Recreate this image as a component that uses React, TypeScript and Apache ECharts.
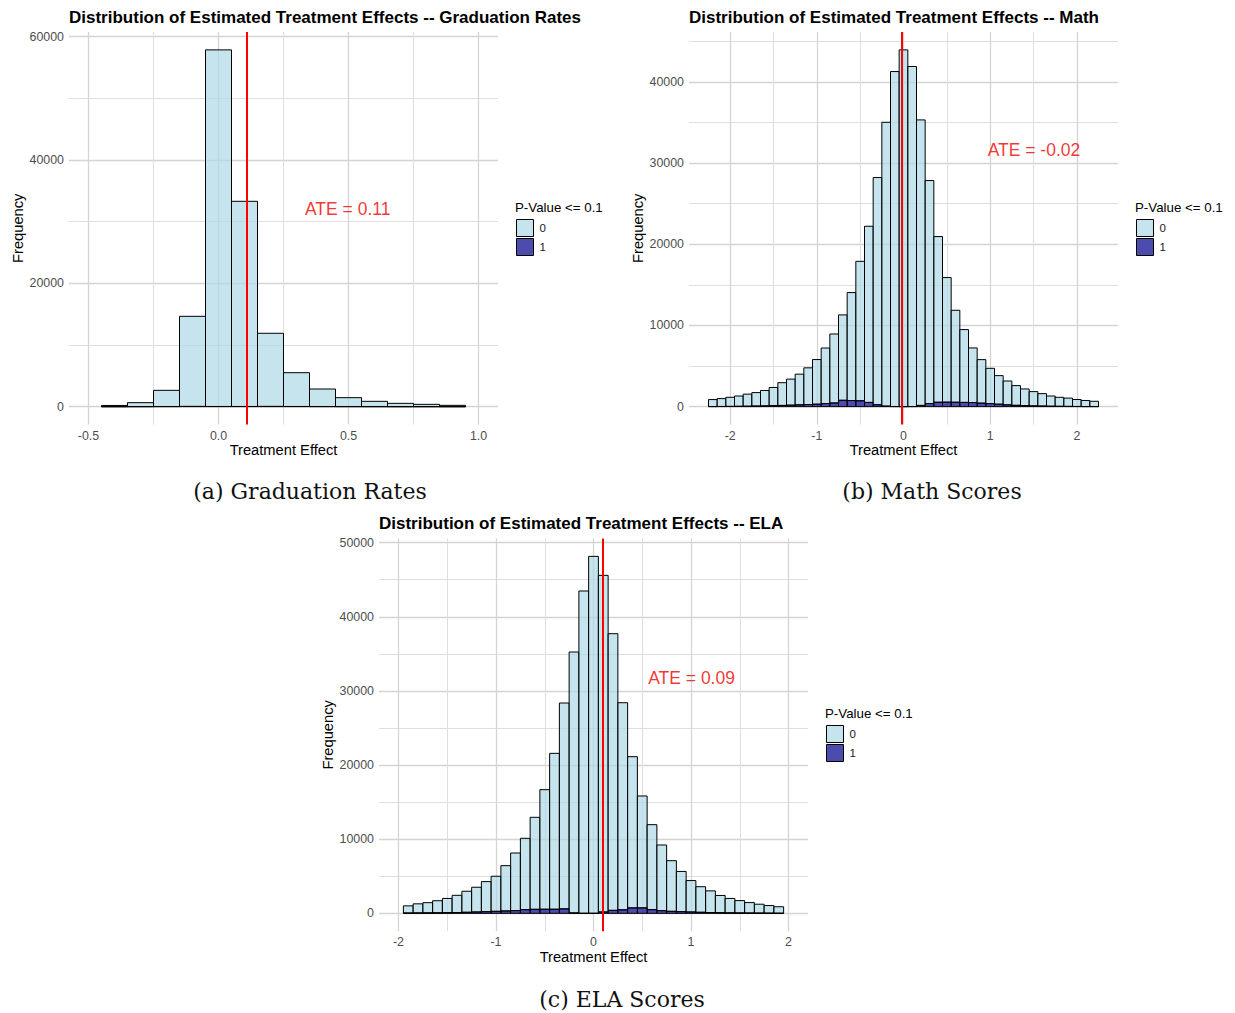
import { useEffect, useRef } from "react";
import * as echarts from "echarts";

const SANS = '"Liberation Sans", Arial, Helvetica, sans-serif';
const SERIF = '"DejaVu Serif", serif';

const FILL_NOT_SIG = "rgba(173,216,230,0.7)";
const FILL_SIG = "rgba(0,0,139,0.7)";

// Graduation rates: bin centres (bin width 0.1), bin counts, counts with p <= 0.1
const gradCenters = [-0.4, -0.3, -0.2, -0.1, 0.0, 0.1, 0.2, 0.3, 0.4, 0.5, 0.6, 0.7, 0.8, 0.9];
const gradCounts = [200, 650, 2650, 14650, 57850, 33300, 11900, 5510, 2865, 1460, 865, 540, 380, 216];
const gradSignificant = [0, 10, 20, 40, 30, 30, 40, 30, 20, 15, 10, 5, 5, 0];
const gradAte = 0.11;
const gradXTicks = [-0.5, 0, 0.5, 1.0];
const gradXMinor = [-0.25, 0.25, 0.75];
const gradYTicks = [0, 20000, 40000, 60000];
const gradYMinor = [10000, 30000, 50000];

// Math scores
const mathCenters = [
  -2.2, -2.1, -2.0, -1.9, -1.8, -1.7, -1.6, -1.5, -1.4, -1.3, -1.2, -1.1, -1.0, -0.9, -0.8,
  -0.7, -0.6, -0.5, -0.4, -0.3, -0.2, -0.1, 0.0, 0.1, 0.2, 0.3, 0.4, 0.5, 0.6, 0.7,
  0.8, 0.9, 1.0, 1.1, 1.2, 1.3, 1.4, 1.5, 1.6, 1.7, 1.8, 1.9, 2.0, 2.1, 2.2,
];
const mathCounts = [
  870, 990, 1150, 1310, 1540, 1730, 1990, 2360, 2950, 3390, 4000, 4780, 5800, 7220, 8950,
  11300, 14050, 17900, 22220, 28220, 35030, 41280, 43950, 41900, 35320, 27850, 20950, 15900, 11870, 9490,
  7230, 5790, 4720, 3820, 3160, 2590, 2180, 1850, 1600, 1310, 1150, 1050, 880, 760, 660,
];
const mathSignificant = [
  10, 20, 30, 40, 50, 70, 90, 120, 150, 180, 220, 260, 300, 380, 450,
  780, 750, 720, 520, 230, 60, 10, 0, 10, 150, 380, 540, 550, 540, 520,
  500, 430, 380, 300, 220, 160, 120, 90, 70, 50, 40, 30, 20, 10, 10,
];
const mathAte = -0.02;
const mathXTicks = [-2, -1, 0, 1, 2];
const mathXMinor = [-1.5, -0.5, 0.5, 1.5];
const mathYTicks = [0, 10000, 20000, 30000, 40000];
const mathYMinor = [5000, 15000, 25000, 35000, 45000];

// ELA scores
const elaCenters = [
  -1.9, -1.8, -1.7, -1.6, -1.5, -1.4, -1.3, -1.2, -1.1, -1.0, -0.9, -0.8, -0.7, -0.6, -0.5,
  -0.4, -0.3, -0.2, -0.1, 0.0, 0.1, 0.2, 0.3, 0.4, 0.5, 0.6, 0.7, 0.8, 0.9, 1.0,
  1.1, 1.2, 1.3, 1.4, 1.5, 1.6, 1.7, 1.8, 1.9,
];
const elaCounts = [
  1010, 1280, 1440, 1700, 2010, 2430, 2980, 3520, 4280, 5000, 6430, 8140, 10120, 12950, 16680,
  21580, 28370, 35250, 43480, 48150, 45590, 37720, 28410, 21130, 15830, 11960, 9220, 7100, 5650, 4420,
  3590, 3030, 2410, 2010, 1720, 1450, 1230, 1050, 890,
];
const elaSignificant = [
  40, 50, 60, 70, 90, 110, 140, 180, 220, 270, 320, 370, 500, 540, 550,
  550, 600, 50, 0, 0, 180, 400, 470, 730, 730, 500, 360, 270, 220, 180,
  140, 100, 80, 60, 50, 40, 30, 20, 10,
];
const elaAte = 0.09;
const elaXTicks = [-2, -1, 0, 1, 2];
const elaXMinor = [-1.5, -0.5, 0.5, 1.5];
const elaYTicks = [0, 10000, 20000, 30000, 40000, 50000];
const elaYMinor = [5000, 15000, 25000, 35000, 45000];

const BIN_WIDTH = 0.1;

type Panel = {
  title: string;
  caption: string;
  centers: number[];
  counts: number[];
  significant: number[];
  ate: number;
  ateText: string;
  ateLabelAt: [number, number];
  xTicks: number[];
  xMinor: number[];
  yTicks: number[];
  yMinor: number[];
  xDigits: number;
  xRange: [number, number];
  yRange: [number, number];
  grid: { left: number; top: number; width: number; height: number };
  legendAt: [number, number];
  captionAt: [number, number];
};

const panels: Panel[] = [
  {
    title: "Distribution of Estimated Treatment Effects -- Graduation Rates",
    caption: "(a) Graduation Rates",
    centers: gradCenters,
    counts: gradCounts,
    significant: gradSignificant,
    ate: gradAte,
    ateText: "ATE = " + gradAte.toFixed(2),
    ateLabelAt: [0.497, 32000],
    xTicks: gradXTicks,
    xMinor: gradXMinor,
    yTicks: gradYTicks,
    yMinor: gradYMinor,
    xDigits: 1,
    xRange: [-0.575, 1.075],
    yRange: [-2890, 60750],
    grid: { left: 69, top: 32, width: 429, height: 392.5 },
    legendAt: [515, 207],
    captionAt: [310, 491],
  },
  {
    title: "Distribution of Estimated Treatment Effects -- Math",
    caption: "(b) Math Scores",
    centers: mathCenters,
    counts: mathCounts,
    significant: mathSignificant,
    ate: mathAte,
    ateText: "ATE = " + mathAte.toFixed(2),
    ateLabelAt: [1.505, 31600],
    xTicks: mathXTicks,
    xMinor: mathXMinor,
    yTicks: mathYTicks,
    yMinor: mathYMinor,
    xDigits: 0,
    xRange: [-2.475, 2.475],
    yRange: [-2200, 46150],
    grid: { left: 689, top: 32, width: 429, height: 392.5 },
    legendAt: [1135, 207],
    captionAt: [932, 491],
  },
  {
    title: "Distribution of Estimated Treatment Effects -- ELA",
    caption: "(c) ELA Scores",
    centers: elaCenters,
    counts: elaCounts,
    significant: elaSignificant,
    ate: elaAte,
    ateText: "ATE = " + elaAte.toFixed(2),
    ateLabelAt: [1.006, 31780],
    xTicks: elaXTicks,
    xMinor: elaXMinor,
    yTicks: elaYTicks,
    yMinor: elaYMinor,
    xDigits: 0,
    xRange: [-2.2, 2.2],
    yRange: [-2410, 50560],
    grid: { left: 379, top: 538.5, width: 429, height: 392.7 },
    legendAt: [825, 713],
    captionAt: [622, 999],
  },
];

const majorGrid = { color: "#D4D4D4", width: 1.3 };
const minorGrid = { color: "#DEDEDE", width: 1 };

function stackedBars(fill: string) {
  return (params: any, api: any) => {
    const c = api.value(0);
    const lo = api.value(1);
    const hi = api.value(2);
    const p0 = api.coord([c - BIN_WIDTH / 2, hi]);
    const p1 = api.coord([c + BIN_WIDTH / 2, lo]);
    return {
      type: "rect",
      shape: { x: p0[0], y: p0[1], width: p1[0] - p0[0], height: p1[1] - p0[1] },
      style: { fill, stroke: "#000", lineWidth: 1 },
    };
  };
}

function buildOption() {
  const option: any = {
    animation: false,
    backgroundColor: "#fff",
    title: [],
    grid: [],
    xAxis: [],
    yAxis: [],
    legend: [],
    series: [],
    graphic: [],
  };

  panels.forEach((p, i) => {
    option.title.push({
      text: p.title,
      left: p.grid.left,
      top: p.grid.top - 23.5,
      padding: 0,
      textStyle: { fontFamily: SANS, fontSize: 17, fontWeight: "bold", color: "#000" },
    });
    option.grid.push({ ...p.grid, containLabel: false });

    const labelStyle = { color: "#4D4D4D", fontSize: 12.4, fontFamily: SANS };
    const nameStyle = { color: "#000", fontSize: 14.7, fontFamily: SANS };

    option.xAxis.push({
      type: "value",
      gridIndex: i,
      position: "bottom",
      min: p.xRange[0],
      max: p.xRange[1],
      name: "Treatment Effect",
      nameLocation: "middle",
      nameGap: 18,
      nameTextStyle: nameStyle,
      axisLine: { show: false },
      axisTick: { show: false, customValues: p.xTicks },
      axisLabel: {
        ...labelStyle,
        margin: 5,
        customValues: p.xTicks,
        formatter: (v: number) => v.toFixed(p.xDigits),
      },
      splitLine: { show: true, lineStyle: majorGrid },
    });
    option.xAxis.push({
      type: "value",
      gridIndex: i,
      position: "top",
      min: p.xRange[0],
      max: p.xRange[1],
      axisLine: { show: false },
      axisTick: { show: false, customValues: p.xMinor },
      axisLabel: { show: false },
      splitLine: { show: true, lineStyle: minorGrid },
    });
    option.yAxis.push({
      type: "value",
      gridIndex: i,
      position: "left",
      min: p.yRange[0],
      max: p.yRange[1],
      name: "Frequency",
      nameLocation: "middle",
      nameRotate: 90,
      nameGap: 44,
      nameTextStyle: nameStyle,
      axisLine: { show: false },
      axisTick: { show: false, customValues: p.yTicks },
      axisLabel: {
        ...labelStyle,
        margin: 5,
        customValues: p.yTicks,
        formatter: (v: number) => String(v),
      },
      splitLine: { show: true, lineStyle: majorGrid },
    });
    option.yAxis.push({
      type: "value",
      gridIndex: i,
      position: "right",
      min: p.yRange[0],
      max: p.yRange[1],
      axisLine: { show: false },
      axisTick: { show: false, customValues: p.yMinor },
      axisLabel: { show: false },
      splitLine: { show: true, lineStyle: minorGrid },
    });

    const xi = i * 2;
    const yi = i * 2;

    // p > 0.1 stacked on top of p <= 0.1
    option.series.push({
      type: "custom",
      name: "0",
      xAxisIndex: xi,
      yAxisIndex: yi,
      itemStyle: { color: FILL_NOT_SIG },
      encode: { x: 0, y: [1, 2] },
      renderItem: stackedBars(FILL_NOT_SIG),
      data: p.centers.map((c, k) => [c, p.significant[k], p.counts[k]]),
      silent: true,
      z: 2,
    });
    option.series.push({
      type: "custom",
      name: "1",
      xAxisIndex: xi,
      yAxisIndex: yi,
      itemStyle: { color: FILL_SIG },
      encode: { x: 0, y: [1, 2] },
      renderItem: stackedBars(FILL_SIG),
      data: p.centers.map((c, k) => [c, 0, p.significant[k]]),
      silent: true,
      z: 3,
    });
    // average treatment effect: vertical line and label
    option.series.push({
      type: "scatter",
      name: "ATE",
      xAxisIndex: xi,
      yAxisIndex: yi,
      symbolSize: 0,
      silent: true,
      z: 5,
      data: [p.ateLabelAt],
      label: {
        show: true,
        position: "inside",
        formatter: p.ateText,
        color: "#F00000",
        fontSize: 17.5,
        fontFamily: SANS,
      },
      markLine: {
        silent: true,
        symbol: ["none", "none"],
        label: { show: false },
        lineStyle: { color: "#FF0000", width: 2, type: "solid" },
        data: [{ xAxis: p.ate }],
      },
    });

    option.legend.push({
      orient: "vertical",
      left: p.legendAt[0] + 1,
      top: p.legendAt[1] + 12,
      padding: 0,
      itemWidth: 17,
      itemHeight: 17,
      itemGap: 1,
      icon: "rect",
      selectedMode: false,
      textStyle: { fontFamily: SANS, fontSize: 11.5, color: "#1A1A1A", padding: [0, 0, 0, 1] },
      data: [
        { name: "0", itemStyle: { color: FILL_NOT_SIG, borderColor: "#000", borderWidth: 1 } },
        { name: "1", itemStyle: { color: FILL_SIG, borderColor: "#000", borderWidth: 1 } },
      ],
    });

    option.graphic.push({
      type: "text",
      x: p.legendAt[0],
      y: p.legendAt[1],
      silent: true,
      style: {
        text: "P-Value <= 0.1",
        fontFamily: SANS,
        fontSize: 13.3,
        fill: "#000",
        align: "left",
        verticalAlign: "middle",
      },
    });
    option.graphic.push({
      type: "text",
      x: p.captionAt[0],
      y: p.captionAt[1],
      silent: true,
      style: {
        text: p.caption,
        fontFamily: SERIF,
        fontSize: 22,
        fill: "#111",
        align: "center",
        verticalAlign: "middle",
      },
    });
  });

  return option;
}

export default function App() {
  const ref = useRef<HTMLDivElement>(null);

  useEffect(() => {
    if (!ref.current) return;
    const chart = echarts.init(ref.current, undefined, { renderer: "svg" });
    chart.setOption(buildOption());
    return () => chart.dispose();
  }, []);

  return (
    <div
      ref={ref}
      style={{ position: "absolute", left: 0, top: 0, width: 1235, height: 1013, background: "#fff" }}
    />
  );
}
